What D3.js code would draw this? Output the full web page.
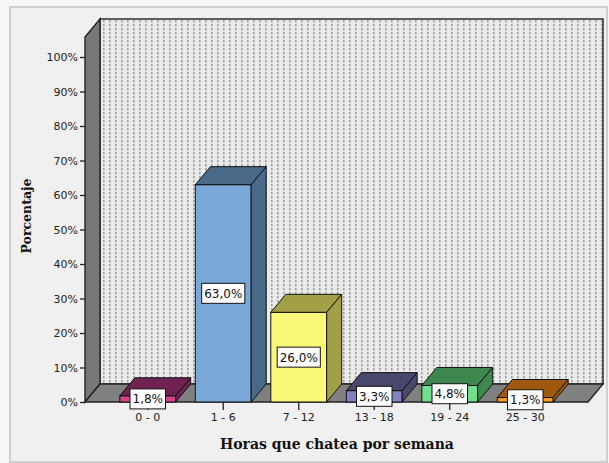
<!DOCTYPE html>
<html>
<head>
<meta charset="utf-8">
<script src="https://cdn.jsdelivr.net/npm/d3@7"></script>
<style>
  html, body { margin: 0; padding: 0; background: #f7f7f7; }
  svg { display: block; }
</style>
</head>
<body>
<svg id="chart" width="609" height="463"></svg>
<script>
// Hours spent chatting per week: share of respondents per bracket
const categories = ["0 - 0", "1 - 6", "7 - 12", "13 - 18", "19 - 24", "25 - 30"];
const percentages = [1.8, 63.0, 26.0, 3.3, 4.8, 1.3];
const frontColors = ["#d8448c", "#79a8d8", "#fbf878", "#8282c2", "#70de8a", "#ff9c1c"];
const shadeColors = ["#702252", "#4a6a8a", "#a2a046", "#48486c", "#3e8850", "#a0580e"];
const yTicks = [0, 10, 20, 30, 40, 50, 60, 70, 80, 90, 100];

const svg = d3.select("#chart");
const W = 609, H = 463;

// depth offset of the 3D box
const DX = 15, DY = 18;
const plotLeft = 85, plotRight = 588;

const y = d3.scaleLinear().domain([0, 100]).range([402, 57]);
const x = d3.scaleBand().domain(categories).range([110, 563])
  .paddingInner(0.26).paddingOuter(0.13);

const y0 = y(0);
const yTop = y(105.8);

// outer frame
svg.append("rect")
  .attr("x", 10).attr("y", 7).attr("width", W - 12).attr("height", H - 8)
  .attr("fill", "#f0f0f0").attr("stroke", "#cfcfcf").attr("stroke-width", 2);

// dotted back-wall texture
const defs = svg.append("defs");
const pat = defs.append("pattern").attr("id", "dots")
  .attr("patternUnits", "userSpaceOnUse").attr("width", 6).attr("height", 4)
  .attr("x", 101).attr("y", 20);
pat.append("rect").attr("width", 6).attr("height", 4).attr("fill", "#eaeaea");
pat.append("rect").attr("x", 2).attr("y", 0).attr("width", 1.6).attr("height", 2.4).attr("fill", "#a0a0a0");

const line = d3.line();

// back wall
svg.append("rect")
  .attr("x", plotLeft + DX).attr("y", yTop - DY)
  .attr("width", plotRight - plotLeft).attr("height", y0 - yTop)
  .attr("fill", "url(#dots)").attr("stroke", "#222").attr("stroke-width", 1.4);

// left wall
svg.append("path")
  .attr("d", line([[plotLeft, yTop], [plotLeft + DX, yTop - DY], [plotLeft + DX, y0 - DY], [plotLeft, y0]]) + "Z")
  .attr("fill", "#787878").attr("stroke", "#222").attr("stroke-width", 1.4);

// floor
svg.append("path")
  .attr("d", line([[plotLeft, y0], [plotLeft + DX, y0 - DY], [plotRight + DX, y0 - DY], [plotRight, y0]]) + "Z")
  .attr("fill", "#808080").attr("stroke", "#222").attr("stroke-width", 1.4);

// y axis
const yAxis = svg.append("g").attr("transform", `translate(${plotLeft},0)`)
  .call(d3.axisLeft(y).tickValues(yTicks).tickFormat(d => d + "%").tickSize(5).tickPadding(2));
yAxis.select(".domain").remove();
yAxis.selectAll("line").attr("stroke", "#222").attr("stroke-width", 1.3);
yAxis.selectAll("text").attr("font-family", "DejaVu Sans").attr("font-size", 11).attr("fill", "#222");

// x axis
const xAxis = svg.append("g").attr("transform", `translate(0,${y0})`)
  .call(d3.axisBottom(x).tickSize(8).tickPadding(3));
xAxis.select(".domain").remove();
xAxis.selectAll("line").attr("stroke", "#222").attr("stroke-width", 1.3);
xAxis.selectAll("text").attr("font-family", "DejaVu Sans").attr("font-size", 11).attr("fill", "#222");

// bars
const bars = svg.append("g").selectAll("g").data(categories).join("g");
bars.each(function (c, i) {
  const g = d3.select(this);
  const bx = x(c), bw = x.bandwidth(), yv = y(percentages[i]);
  g.append("rect")
    .attr("x", bx).attr("y", yv).attr("width", bw).attr("height", y0 - yv)
    .attr("fill", frontColors[i]).attr("stroke", "#111").attr("stroke-width", 1);
  g.append("path")
    .attr("d", line([[bx, yv], [bx + DX, yv - DY], [bx + bw + DX, yv - DY], [bx + bw, yv]]) + "Z")
    .attr("fill", shadeColors[i]).attr("stroke", "#111").attr("stroke-width", 1);
  g.append("path")
    .attr("d", line([[bx + bw, yv], [bx + bw + DX, yv - DY], [bx + bw + DX, y0 - DY], [bx + bw, y0]]) + "Z")
    .attr("fill", shadeColors[i]).attr("stroke", "#111").attr("stroke-width", 1);
});

// value labels
const fmt = v => d3.format(".1f")(v).replace(".", ",") + "%";
bars.each(function (c, i) {
  const g = d3.select(this);
  const cx = x(c) + x.bandwidth() / 2;
  const cy = (y(percentages[i]) + y0) / 2;
  const t = g.append("text")
    .attr("x", cx).attr("y", cy + 4.5)
    .attr("text-anchor", "middle")
    .attr("font-family", "DejaVu Sans").attr("font-size", 12).attr("fill", "#111")
    .text(fmt(percentages[i]));
  const bb = t.node().getBBox();
  g.insert("rect", "text")
    .attr("x", cx - bb.width / 2 - 2.5).attr("y", cy - 10)
    .attr("width", bb.width + 5).attr("height", 20)
    .attr("fill", "#fff").attr("stroke", "#111").attr("stroke-width", 1);
});

// axis titles
svg.append("text")
  .attr("x", 337).attr("y", 449).attr("text-anchor", "middle")
  .attr("font-family", "DejaVu Serif").attr("font-weight", "bold").attr("font-size", 14)
  .attr("fill", "#111").text("Horas que chatea por semana");

svg.append("text")
  .attr("transform", "translate(31,216) rotate(-90)").attr("text-anchor", "middle")
  .attr("font-family", "DejaVu Serif").attr("font-weight", "bold").attr("font-size", 12.5)
  .attr("fill", "#111").text("Porcentaje");
</script>
</body>
</html>
